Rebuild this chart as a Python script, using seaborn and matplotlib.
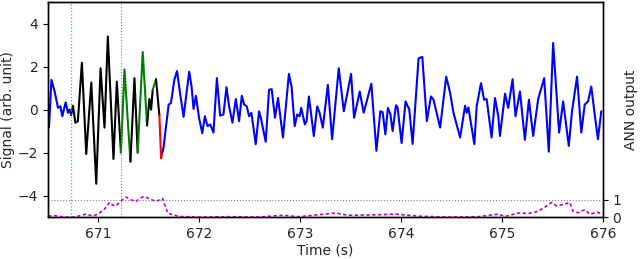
import numpy as np
import seaborn as sns
from matplotlib import pyplot as plt

#%% # data

# signal (time in s, value in arb. unit)
t_sig = [670.510, 670.534, 670.566, 670.599, 670.623, 670.642, 670.675, 670.698, 670.714, 670.729,
         670.747, 670.771, 670.796, 670.836, 670.879, 670.929, 670.978, 671.021, 671.060, 671.093,
         671.149, 671.182, 671.223, 671.258, 671.317, 671.357, 671.389, 671.439, 671.482, 671.505,
         671.522, 671.538, 671.571, 671.604, 671.621, 671.633, 671.643, 671.696, 671.719, 671.752,
         671.779, 671.811, 671.844, 671.877, 671.900, 671.923, 671.943, 671.966, 671.999, 672.029,
         672.055, 672.081, 672.108, 672.140, 672.174, 672.206, 672.239, 672.269, 672.295, 672.328,
         672.362, 672.394, 672.421, 672.444, 672.470, 672.493, 672.516, 672.559, 672.592, 672.609,
         672.658, 672.691, 672.717, 672.750, 672.780, 672.829, 672.888, 672.915, 672.945, 672.970,
         672.994, 673.010, 673.046, 673.063, 673.086, 673.135, 673.168, 673.192, 673.224, 673.274,
         673.316, 673.382, 673.432, 673.464, 673.504, 673.534, 673.590, 673.629, 673.705, 673.755,
         673.794, 673.817, 673.844, 673.869, 673.893, 673.916, 673.949, 673.965, 674.005, 674.044,
         674.081, 674.114, 674.173, 674.210, 674.255, 674.296, 674.321, 674.364, 674.387, 674.447,
         674.486, 674.519, 674.585, 674.634, 674.650, 674.667, 674.726, 674.749, 674.792, 674.822,
         674.848, 674.897, 674.931, 674.963, 674.980, 675.030, 675.062, 675.105, 675.134, 675.178,
         675.227, 675.267, 675.309, 675.359, 675.418, 675.464, 675.507, 675.566, 675.606, 675.662,
         675.694, 675.744, 675.786, 675.820, 675.853, 675.885, 675.919, 675.951, 675.984]
v_sig = [-0.83, 1.38, 0.84, 0.08, 0.15, -0.31, 0.34, -0.15, 0.00, -0.25,
         0.18, -0.61, -0.54, 2.18, -2.07, 1.26, -3.45, 1.92, -0.84, 3.40,
         -2.30, 1.30, -2.00, 1.87, -2.42, 1.46, -2.00, 2.68, -0.74, 0.49,
         0.00, 0.92, 1.41, -0.28, -2.27, -2.00, -1.84, 0.23, 0.31, 1.38,
         1.79, 0.69, -0.34, 0.92, 1.76, 1.07, 0.03, 0.64, -0.43, -1.10,
         -0.31, -0.77, -0.69, -1.07, 1.46, -0.28, -0.23, 1.04, 0.15, -0.61,
         0.49, -0.54, 0.64, 0.23, 0.15, -0.31, -0.15, -1.61, -0.08, -0.38,
         -1.50, 0.92, 0.95, -0.38, 0.54, -1.30, 1.66, 1.04, -0.77, -0.23,
         -0.31, 0.08, -0.69, -0.54, 0.61, -1.23, 0.15, -0.15, -0.84, 1.15,
         -1.38, 1.92, -0.08, 0.69, 1.66, -0.38, 0.84, -0.15, 1.20, -1.92,
         -0.08, -0.12, -1.15, 0.08, -0.20, -1.00, 0.20, 0.10, -1.56, 0.38,
         0.00, -1.60, 2.38, 2.45, -0.54, 0.61, 0.46, -0.38, -0.84, 1.53,
         0.77, -0.15, -1.30, 0.18, -0.15, 0.10, -1.61, 0.15, 1.23, 0.46,
         0.49, -1.30, 0.54, -0.31, -1.23, 0.74, 0.08, 1.41, -0.31, 0.84,
         -1.41, 0.46, -1.23, 0.50, 1.46, -1.96, 3.10, -1.07, 0.38, -1.69,
         -0.08, 1.53, -1.07, 0.23, 0.38, 1.07, -0.23, -1.38, -0.08]

# colour segments of the signal (segment edges in s)
seg_edges = [670.50, 670.729, 671.223, 671.317, 671.389, 671.482, 671.538, 671.571, 671.604, 671.633, 676.0]
seg_colors = ['b', 'k', 'g', 'k', 'g', 'k', 'g', 'k', 'r', 'b']

# ANN output
t_ann = [670.502, 670.566, 670.665, 670.764, 670.879, 670.945, 671.011, 671.060, 671.110, 671.139,
         671.176, 671.218, 671.275, 671.317, 671.373, 671.416, 671.456, 671.505, 671.571, 671.636,
         671.663, 671.686, 671.735, 671.801, 671.999, 672.295, 672.592, 672.822, 672.987, 673.350,
         673.480, 673.778, 673.942, 674.173, 674.469, 674.765, 674.963, 675.030, 675.161, 675.260,
         675.359, 675.425, 675.490, 675.539, 675.606, 675.672, 675.704, 675.754, 675.820, 675.869,
         675.951, 675.981]
v_ann = [0.05, 0.08, 0.00, 0.00, 0.17, 0.05, 0.23, 0.46, 0.84, 0.70,
         0.65, 0.90, 1.15, 1.00, 0.90, 1.10, 1.19, 1.05, 0.90, 1.07,
         0.61, 0.23, 0.13, 0.03, 0.00, 0.02, 0.00, 0.10, 0.02, 0.23,
         0.10, 0.13, 0.17, 0.05, 0.00, 0.02, 0.17, 0.03, 0.23, 0.20,
         0.33, 0.58, 0.84, 0.65, 0.72, 0.84, 0.33, 0.25, 0.42, 0.17,
         0.27, 0.20]

t_cyan = 670.73
t_grey = 671.22

#%% # plot

sns.set_style('ticks')
plt.rcParams['font.family'] = ['DejaVu Sans']

fig, ax = plt.subplots(figsize=(6.4, 2.59), dpi=100)
fig.subplots_adjust(left=0.075, right=0.942, top=0.992, bottom=0.162)

t_arr = np.array(t_sig)
v_arr = np.array(v_sig)
for i, c in enumerate(seg_colors):
    L1 = (t_arr >= seg_edges[i]) & (t_arr <= seg_edges[i + 1])
    sns.lineplot(x=t_arr[L1], y=v_arr[L1], color=c, lw=1.5, sort=False, ax=ax,
                 solid_joinstyle='round', solid_capstyle='round')

ax.axvline(t_cyan, color='#17becf', ls=':', lw=0.9)
ax.axvline(t_grey, color='grey', ls=':', lw=0.8)

ax.set_xlim(670.5, 676)
ax.set_ylim(-5, 5)
ax.set_yticks([-4, -2, 0, 2, 4])
ax.set_xticks([671, 672, 673, 674, 675, 676])
ax.set_xlabel('Time (s)', fontsize=10, labelpad=2)
ax.set_ylabel('Signal (arb. unit)', fontsize=10, labelpad=2)
ax.tick_params(labelsize=10, length=3.5, color='k')

ax2 = ax.twinx()
sns.lineplot(x=t_ann, y=v_ann, color='m', lw=1.2, ls=(0, (2, 1.5)), sort=False, ax=ax2)
ax2.axhline(1, color='grey', ls=':', lw=0.8)
ax2.set_ylim(0, 12.4)
ax2.set_yticks([0, 1])
ax2.set_ylabel('ANN output', fontsize=10, labelpad=2)
ax2.tick_params(labelsize=10, length=3.5, color='k')

for a in (ax, ax2):
    for s in a.spines.values():
        s.set_color('k')
        s.set_linewidth(1.0)

plt.savefig('out.png', dpi=100)
